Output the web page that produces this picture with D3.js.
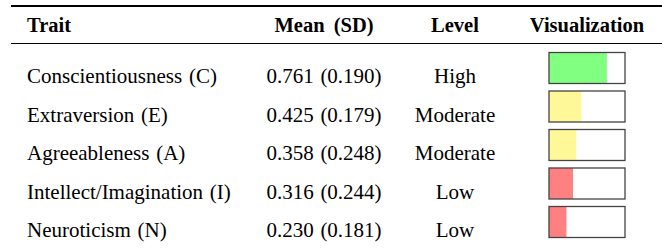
<!DOCTYPE html>
<html>
<head>
<meta charset="utf-8">
<script src="https://cdn.jsdelivr.net/npm/d3@7"></script>
<style>
  body { margin: 0; background: #fff; }
  text { font-family: "Liberation Serif", "Times New Roman", serif; fill: #000; }
  .head { font-weight: bold; font-size: 20.5px; word-spacing: 4px; }
  .cell { font-size: 21px; word-spacing: 1.5px; }
</style>
</head>
<body>
<svg id="chart"></svg>
<script>
// table data
const traits = ["Conscientiousness (C)", "Extraversion (E)", "Agreeableness (A)", "Intellect/Imagination (I)", "Neuroticism (N)"];
const means = [0.761, 0.425, 0.358, 0.316, 0.230];
const sds = [0.190, 0.179, 0.248, 0.244, 0.181];
const levels = ["High", "Moderate", "Moderate", "Low", "Low"];
const headers = ["Trait", "Mean (SD)", "Level", "Visualization"];
const levelColors = { High: "#80ff80", Moderate: "#fff899", Low: "#ff8080" };

var width = 662, height = 248;
var svg = d3.select("#chart").attr("width", width).attr("height", height);

// row positions (text baselines)
var y = d3.scalePoint()
    .domain(traits)
    .range([83, 237]);

// bar scale
var barW = 76, barH = 31;
var x = d3.scaleLinear().domain([0, 1]).range([0, barW]);

// rules
svg.append("line").attr("x1", 11).attr("x2", width).attr("y1", 6).attr("y2", 6)
    .attr("stroke", "#000").attr("stroke-width", 2);
svg.append("line").attr("x1", 11).attr("x2", width).attr("y1", 43.5).attr("y2", 43.5)
    .attr("stroke", "#000").attr("stroke-width", 1.2);

// header
var colX = [27, 324, 455, 587];
var anchors = ["start", "middle", "middle", "middle"];
svg.selectAll(".head")
    .data(headers)
    .enter().append("text")
    .attr("class", "head")
    .attr("x", (d, i) => colX[i])
    .attr("y", 31.5)
    .style("text-anchor", (d, i) => anchors[i])
    .text(d => d);

// rows
var rows = svg.selectAll(".row")
    .data(traits)
    .enter().append("g")
    .attr("class", "row")
    .attr("transform", d => "translate(0," + y(d) + ")");

rows.append("text").attr("class", "cell")
    .attr("x", colX[0])
    .text(d => d);

rows.append("text").attr("class", "cell")
    .attr("x", colX[1])
    .style("text-anchor", "middle")
    .text((d, i) => means[i].toFixed(3) + " (" + sds[i].toFixed(3) + ")");

rows.append("text").attr("class", "cell")
    .attr("x", colX[2])
    .style("text-anchor", "middle")
    .text((d, i) => levels[i]);

// visualization bars
var bx = 549;
rows.append("rect")
    .attr("x", bx)
    .attr("y", -barH + 0.5)
    .attr("width", (d, i) => x(means[i]))
    .attr("height", barH)
    .attr("fill", (d, i) => levelColors[levels[i]]);

rows.append("rect")
    .attr("x", bx)
    .attr("y", -barH + 0.5)
    .attr("width", barW)
    .attr("height", barH)
    .attr("fill", "none")
    .attr("stroke", "#444")
    .attr("stroke-width", 1.3);
</script>
</body>
</html>
